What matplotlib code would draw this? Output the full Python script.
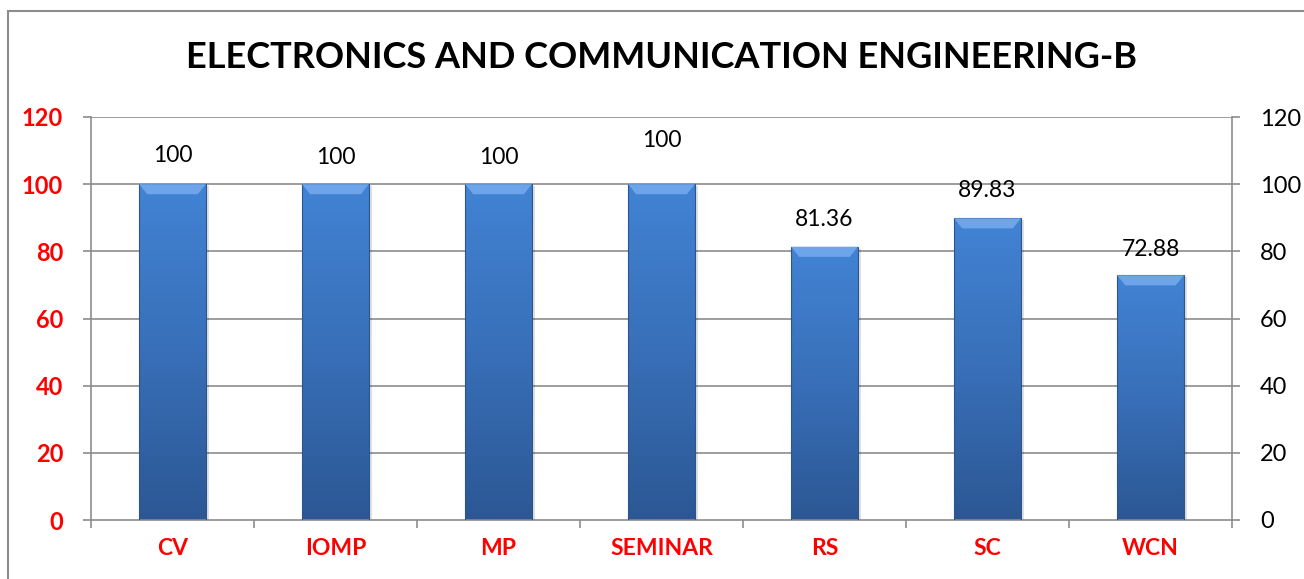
import matplotlib
matplotlib.use("Agg")
import matplotlib.pyplot as plt
import matplotlib.patches as patches
import numpy as np

subjects = ["CV", "IOMP", "MP", "SEMINAR", "RS", "SC", "WCN"]
pass_pct = [100, 100, 100, 100, 81.36, 89.83, 72.88]
label_text = ["100", "100", "100", "100", "81.36", "89.83", "72.88"]
yticks = [0, 20, 40, 60, 80, 100, 120]
title = "ELECTRONICS AND COMMUNICATION ENGINEERING-B"

plt.rcParams['font.family'] = ['Lato', 'DejaVu Sans']

W, H = 1304, 579
fig = plt.figure(figsize=(W / 100, H / 100), dpi=100)

# outer chart border (cut off at right and bottom like the source)
fig.add_artist(patches.Rectangle((8 / W, -0.05), 1.2, 1 - 11 / H + 0.05,
                                 transform=fig.transFigure, fill=False,
                                 edgecolor="#8c8c8c", linewidth=1.5))

ax = fig.add_axes([91 / W, 1 - 520 / H, (1232 - 91) / W, (520 - 117) / H])
x = np.arange(len(subjects))
bw = 0.41

grid_c = "#8c8c8c"
for y in yticks[1:]:
    ax.axhline(y, color=grid_c, linewidth=1.2, zorder=0)

# bars: vertical gradient plus a lighter bevel on top
grad = np.linspace(0, 1, 256).reshape(-1, 1)
cmap = matplotlib.colors.LinearSegmentedColormap.from_list(
    "bar", ["#2c5794", "#386fb8", "#4283d4"])
for xi, v in zip(x, pass_pct):
    # soft shadow
    ax.add_patch(patches.Rectangle((xi - bw / 2 + 0.02, 0), bw, v - 0.6,
                                   facecolor="#000000", alpha=0.12,
                                   edgecolor="none", zorder=1))
    rect = patches.Rectangle((xi - bw / 2, 0), bw, v, facecolor="none",
                             edgecolor="#2b558c", linewidth=0.8, zorder=3)
    ax.add_patch(rect)
    im = ax.imshow(grad, cmap=cmap, aspect="auto", origin="lower",
                   extent=(xi - bw / 2, xi + bw / 2, 0, v), zorder=2)
    im.set_clip_path(rect)
    bev_h = 3.0
    bev_w = 0.05
    ax.add_patch(patches.Polygon([(xi - bw / 2, v), (xi + bw / 2, v),
                                  (xi + bw / 2 - bev_w, v - bev_h),
                                  (xi - bw / 2 + bev_w, v - bev_h)],
                                 closed=True, facecolor="#6ea5ea",
                                 edgecolor="none", zorder=3))
ax.set_xlim(-0.5, len(subjects) - 0.5)
ax.set_ylim(0, 120)

label_off = [8.6, 8, 8, 13, 8, 8.3, 7.8]
for xi, v, t, o in zip(x, pass_pct, label_text, label_off):
    ax.text(xi, v + o, t, ha="center", va="center", fontsize=16.5,
            color="black")

for s in ["top", "right"]:
    ax.spines[s].set_visible(False)
ax.spines["left"].set_color(grid_c)
ax.spines["bottom"].set_color(grid_c)
ax.spines["left"].set_linewidth(1.2)
ax.spines["bottom"].set_linewidth(1.2)

ax.set_yticks(yticks)
ax.set_yticklabels([str(t) for t in yticks], color="red", fontweight="bold",
                   fontsize=17)
ax.tick_params(axis="y", length=6, width=1.2, color=grid_c, pad=14)

ax.set_xticks(np.arange(-0.5, len(subjects), 1.0))
ax.set_xticklabels([])
ax.tick_params(axis="x", length=6, width=1.2, color=grid_c)
for xi, s in zip(x, subjects):
    ax.text(xi, -8.5, s, ha="center", va="center", fontsize=16.5,
            fontweight="bold", color="red")

ax2 = ax.twinx()
ax2.set_ylim(0, 120)
ax2.set_yticks(yticks)
ax2.set_yticklabels([str(t) for t in yticks], fontsize=17, color="black")
ax2.tick_params(axis="y", length=6, width=1.2, color=grid_c, pad=14)
for s in ["top", "left", "bottom"]:
    ax2.spines[s].set_visible(False)
ax2.spines["right"].set_color(grid_c)
ax2.spines["right"].set_linewidth(1.2)

fig.text(661 / W, 1 - 58 / H, title, ha="center", va="center", fontsize=26,
         fontweight="bold")

fig.savefig("out.png", dpi=100)
